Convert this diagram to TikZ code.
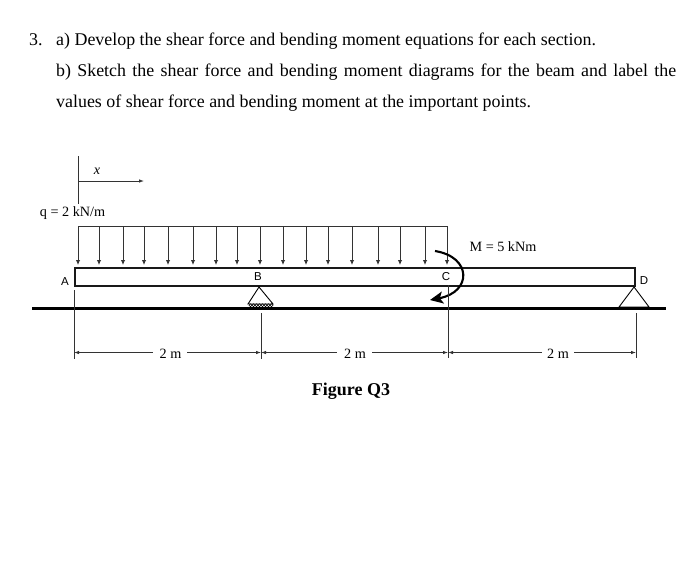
\documentclass[tikz,border=0pt]{standalone}
\usepackage{fontspec}
\setmainfont{Liberation Serif}
\setsansfont{Liberation Sans}
\usetikzlibrary{arrows.meta}
\tikzset{every picture/.append style={x=1pt,y=-1pt}}
\tikzset{
  para/.style={inner sep=0,anchor=base west,font=\fontsize{17.9}{20}\selectfont},
  lbl/.style={inner sep=0,font=\fontsize{14.2}{16}\selectfont},
  dimlbl/.style={inner sep=0,font=\fontsize{14.2}{16}\selectfont,inner xsep=6pt},
  pin/.style={inner sep=1pt,font=\sffamily\fontsize{11.5}{13}\selectfont},
  load/.style={-{Latex[length=5pt,width=4.5pt]},line width=0.9pt,black!80},
  dimto/.style={-{Latex[length=5pt,width=3.5pt]},guide},
  dimfrom/.style={{Latex[length=5pt,width=3.5pt]}-,guide},
  guide/.style={line width=0.8pt,black!80},
  beam/.style={line width=1.9pt,black!90}
}
\begin{document}
\begin{tikzpicture}
    \useasboundingbox (0,0) rectangle (700,565);
    % question text
    \node[para] (num) at (29,45) {3.};
    \node[para] (parta) at (56,45) {a) Develop the shear force and bending moment equations for each section.};
    \node[para] (partb) at (56,76.5) {\hbox to 620pt{b) Sketch the shear force and bending moment diagrams for the beam and label the}};
    \node[para] (partc) at (56,107) {values of shear force and bending moment at the important points.};
    % x axis
    \coordinate (xtop) at (78,156);
    \coordinate (xbot) at (78,204);
    \coordinate (xorg) at (78,181);
    \coordinate (xend) at (144,181);
    \draw[guide] (xtop) -- (xbot);
    \draw[dimto] (xorg) -- (xend);
    \node[lbl] (xlabel) at (97,171) {\itshape x};
    \node[lbl] (qlabel) at (72.5,213) {q = 2 kN/m};
    % distributed load
    \draw[guide] (78,226) -- (447,226);
    \foreach \xpos in {78,99,123,144,168,193,216,237,260,283,306,328,352,378,400,425,447}{
      \draw[load] (\xpos,226) -- (\xpos,265);
    }
    % ground and beam
    \coordinate (gleft) at (32,308);
    \coordinate (gright) at (666,308);
    \draw[line width=3pt,black] (gleft) -- (gright);
    \node[beam,draw,minimum width=560pt,minimum height=18.6pt,inner sep=0,anchor=north west] (beamrect) at (74.3,266.8) {};
    \node[pin] (ptA) at (65,282) {A};
    \node[pin] (ptB) at (258,277) {B};
    \node[pin] (ptC) at (446,277) {C};
    \node[pin] (ptD) at (644,281) {D};
    % supports
    \draw[line width=0.9pt] (259,287) -- (248,304) -- (273,304) -- cycle;
    \foreach \xpos in {250.5,253.5,256.5,259.5,262.5,265.5,268.5,271.5}{
      \draw[line width=0.6pt] (\xpos,305.2) circle (1.5pt);
    }
    \draw[line width=0.9pt] (634,287) -- (619,307) -- (649,307) -- cycle;
    % moment
    \node[lbl] (mlabel) at (503,247) {M = 5 kNm};
    \draw[line width=2.1pt,-{Stealth[length=13pt,width=12pt,inset=3pt]}] (435,251) .. controls (472,257) and (472,292) .. (430,300);
    % dimension lines
    \coordinate (da) at (74,290);
    \coordinate (dab) at (74,359);
    \coordinate (db) at (261,313);
    \coordinate (dbb) at (261,359);
    \coordinate (dc) at (448,285);
    \coordinate (dcb) at (448,358);
    \coordinate (dd) at (636,313);
    \coordinate (ddb) at (636,358);
    \draw[guide] (da) -- (dab);
    \draw[guide] (db) -- (dbb);
    \draw[guide] (dc) -- (dcb);
    \draw[guide] (dd) -- (ddb);
    \node[dimlbl] (dimab) at (170.5,354) {2 m};
    \node[dimlbl] (dimbc) at (355,354) {2 m};
    \node[dimlbl] (dimcd) at (558,354) {2 m};
    \draw[dimfrom] (74,352.5) -- (74+79,352.5);
    \draw[dimto] (187,352.5) -- (261,352.5);
    \draw[dimfrom] (261,352.5) -- (337,352.5);
    \draw[dimto] (372,352.5) -- (448,352.5);
    \draw[dimfrom] (448,352.5) -- (542,352.5);
    \draw[dimto] (574,352.5) -- (636,352.5);
    \node[inner sep=0,font=\bfseries\fontsize{18}{20}\selectfont] (figlabel) at (351,391) {Figure Q3};
  \end{tikzpicture}
\end{document}
